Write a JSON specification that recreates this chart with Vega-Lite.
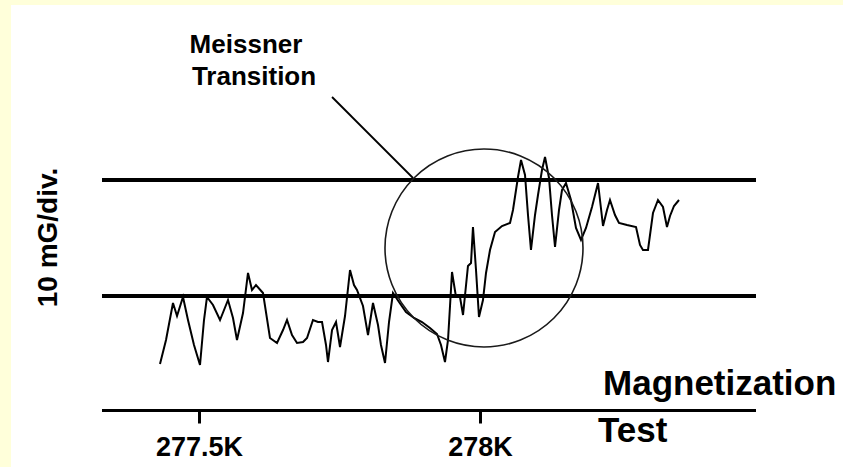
{
  "$schema": "https://vega.github.io/schema/vega-lite/v6.json",
  "width": 832,
  "height": 462,
  "autosize": {"type": "none"},
  "padding": {"left": 11, "top": 5, "right": 0, "bottom": 0},
  "background": "#FFFFDA",
  "config": {"view": {"fill": "#FFFFFF", "stroke": null}, "font": "Liberation Sans"},
  "datasets": {
    "trace": [
      {"x": 277.4306, "y": -5.862}, {"x": 277.4413, "y": -3.793}, {"x": 277.4537, "y": -0.603}, {"x": 277.4609, "y": -1.724},
      {"x": 277.4715, "y": -0.086}, {"x": 277.4804, "y": -2.069}, {"x": 277.4911, "y": -4.224}, {"x": 277.5018, "y": -5.948},
      {"x": 277.5089, "y": -2.069}, {"x": 277.5142, "y": -0.086}, {"x": 277.5249, "y": -0.776}, {"x": 277.5374, "y": -2.069},
      {"x": 277.5516, "y": -0.345}, {"x": 277.5605, "y": -1.897}, {"x": 277.5676, "y": -3.793}, {"x": 277.5783, "y": -1.466},
      {"x": 277.5872, "y": 1.983}, {"x": 277.5943, "y": 0.517}, {"x": 277.6014, "y": 0.948}, {"x": 277.6139, "y": 0.259},
      {"x": 277.6263, "y": -3.621}, {"x": 277.6388, "y": -4.052}, {"x": 277.6495, "y": -2.931}, {"x": 277.6566, "y": -2.069},
      {"x": 277.6655, "y": -3.362}, {"x": 277.6744, "y": -4.052}, {"x": 277.6851, "y": -3.966}, {"x": 277.6922, "y": -3.621},
      {"x": 277.7028, "y": -2.069}, {"x": 277.7117, "y": -2.241}, {"x": 277.7189, "y": -2.241}, {"x": 277.7260, "y": -4.224},
      {"x": 277.7295, "y": -5.690}, {"x": 277.7367, "y": -2.931}, {"x": 277.7438, "y": -2.241}, {"x": 277.7509, "y": -4.397},
      {"x": 277.7598, "y": -1.724}, {"x": 277.7687, "y": 2.241}, {"x": 277.7758, "y": 0.948}, {"x": 277.7811, "y": 0.517},
      {"x": 277.7918, "y": -0.862}, {"x": 277.8007, "y": -3.362}, {"x": 277.8096, "y": -0.603}, {"x": 277.8185, "y": -2.500},
      {"x": 277.8238, "y": -4.224}, {"x": 277.8310, "y": -5.776}, {"x": 277.8381, "y": -2.241}, {"x": 277.8452, "y": 0.259},
      {"x": 277.8559, "y": -0.517}, {"x": 277.8683, "y": -1.379}, {"x": 277.8826, "y": -1.897}, {"x": 277.8968, "y": -2.241},
      {"x": 277.9110, "y": -2.759}, {"x": 277.9235, "y": -3.276}, {"x": 277.9306, "y": -4.224}, {"x": 277.9377, "y": -5.690},
      {"x": 277.9431, "y": -3.793}, {"x": 277.9502, "y": 2.069}, {"x": 277.9573, "y": -0.086}, {"x": 277.9644, "y": -0.086},
      {"x": 277.9698, "y": -1.638}, {"x": 277.9786, "y": 2.586}, {"x": 277.9840, "y": 2.845}, {"x": 277.9875, "y": 5.948},
      {"x": 277.9929, "y": 2.241}, {"x": 277.9982, "y": -1.810}, {"x": 278.0053, "y": -0.345}, {"x": 278.0107, "y": 1.983},
      {"x": 278.0178, "y": 3.966}, {"x": 278.0267, "y": 5.517}, {"x": 278.0391, "y": 6.034}, {"x": 278.0534, "y": 6.293},
      {"x": 278.0587, "y": 7.414}, {"x": 278.0641, "y": 9.138}, {"x": 278.0676, "y": 10.259}, {"x": 278.0730, "y": 11.724},
      {"x": 278.0801, "y": 10.431}, {"x": 278.0854, "y": 6.983}, {"x": 278.0907, "y": 3.966}, {"x": 278.0979, "y": 6.983},
      {"x": 278.1032, "y": 8.707}, {"x": 278.1103, "y": 10.862}, {"x": 278.1157, "y": 11.983}, {"x": 278.1228, "y": 10.172},
      {"x": 278.1281, "y": 6.983}, {"x": 278.1335, "y": 4.224}, {"x": 278.1406, "y": 7.414}, {"x": 278.1459, "y": 9.138},
      {"x": 278.1530, "y": 9.741}, {"x": 278.1619, "y": 8.276}, {"x": 278.1708, "y": 5.862}, {"x": 278.1797, "y": 4.828},
      {"x": 278.1886, "y": 5.862}, {"x": 278.1993, "y": 7.672}, {"x": 278.2100, "y": 9.741}, {"x": 278.2189, "y": 6.034},
      {"x": 278.2260, "y": 7.414}, {"x": 278.2313, "y": 8.276}, {"x": 278.2402, "y": 6.983}, {"x": 278.2473, "y": 6.293},
      {"x": 278.2616, "y": 6.121}, {"x": 278.2776, "y": 5.948}, {"x": 278.2847, "y": 4.397}, {"x": 278.2900, "y": 3.966},
      {"x": 278.2989, "y": 3.966}, {"x": 278.3078, "y": 7.155}, {"x": 278.3167, "y": 8.276}, {"x": 278.3256, "y": 7.672},
      {"x": 278.3327, "y": 5.948}, {"x": 278.3381, "y": 6.897}, {"x": 278.3452, "y": 7.759}, {"x": 278.3541, "y": 8.276}
    ],
    "grid": [
      {"x": 277.3274, "x2": 278.4911, "y": 10},
      {"x": 277.3274, "x2": 278.4911, "y": 0}
    ],
    "baseline": [{"x": 277.3274, "x2": 278.4911, "y": -9.871}],
    "pointer": [{"x": 277.7367, "x2": 277.8808, "y": 17.155, "y2": 10.172}],
    "circle": [{"x": 278.0071, "y": 4.138}],
    "note": [
      {"x": 277.5836, "y": 20.948, "text": "Meissner"},
      {"x": 277.5979, "y": 18.190, "text": "Transition"}
    ],
    "axisnote": [
      {"x": 278.2189, "y": -8.534, "text": "Magnetization"},
      {"x": 278.2100, "y": -12.586, "text": "Test"}
    ]
  },
  "encoding": {
    "x": {
      "field": "x",
      "type": "quantitative",
      "scale": {"domain": [277.16548, 278.64591], "nice": false, "zero": false},
      "axis": {
        "orient": "bottom",
        "offset": -56,
        "values": [277.5, 278],
        "domain": false,
        "grid": false,
        "title": null,
        "tickSize": 12,
        "tickWidth": 3,
        "tickColor": "#000000",
        "labelFontSize": 27,
        "labelFontWeight": "bold",
        "labelFont": "Liberation Sans",
        "labelColor": "#000000",
        "labelPadding": 11,
        "labelFlush": false,
        "labelOverlap": false,
        "labelExpr": "datum.value == 278 ? '278K' : '277.5K'"
      }
    },
    "y": {
      "field": "y",
      "type": "quantitative",
      "scale": {"domain": [-14.741, 25.086], "nice": false, "zero": false},
      "axis": {
        "orient": "left",
        "domain": false,
        "ticks": false,
        "labels": false,
        "grid": false,
        "title": "10 mG/div.",
        "titleFont": "Liberation Sans",
        "titleFontSize": 28,
        "titleFontWeight": "bold",
        "titleColor": "#000000",
        "titleAngle": 270,
        "titleX": 45,
        "titleY": 232,
        "titleAlign": "center",
        "titleBaseline": "alphabetic"
      }
    }
  },
  "layer": [
    {
      "data": {"name": "grid"},
      "mark": {"type": "rule", "color": "#000000", "strokeWidth": 4},
      "encoding": {"x2": {"field": "x2"}}
    },
    {
      "data": {"name": "baseline"},
      "mark": {"type": "rule", "color": "#000000", "strokeWidth": 3},
      "encoding": {"x2": {"field": "x2"}}
    },
    {
      "data": {"name": "trace"},
      "mark": {"type": "line", "color": "#000000", "strokeWidth": 2},
      "encoding": {}
    },
    {
      "data": {"name": "circle"},
      "mark": {"type": "point", "shape": "circle", "size": 39204, "filled": false, "color": "#1a1a1a", "strokeWidth": 1.6, "opacity": 1},
      "encoding": {}
    },
    {
      "data": {"name": "pointer"},
      "mark": {"type": "rule", "color": "#000000", "strokeWidth": 1.8},
      "encoding": {"x2": {"field": "x2"}, "y2": {"field": "y2"}}
    },
    {
      "data": {"name": "note"},
      "mark": {"type": "text", "fontSize": 26, "fontWeight": "bold", "align": "center", "baseline": "alphabetic", "color": "#000000"},
      "encoding": {"text": {"field": "text"}}
    },
    {
      "data": {"name": "axisnote"},
      "mark": {"type": "text", "fontSize": 35, "fontWeight": "bold", "align": "left", "baseline": "alphabetic", "color": "#000000"},
      "encoding": {"text": {"field": "text"}}
    }
  ]
}
